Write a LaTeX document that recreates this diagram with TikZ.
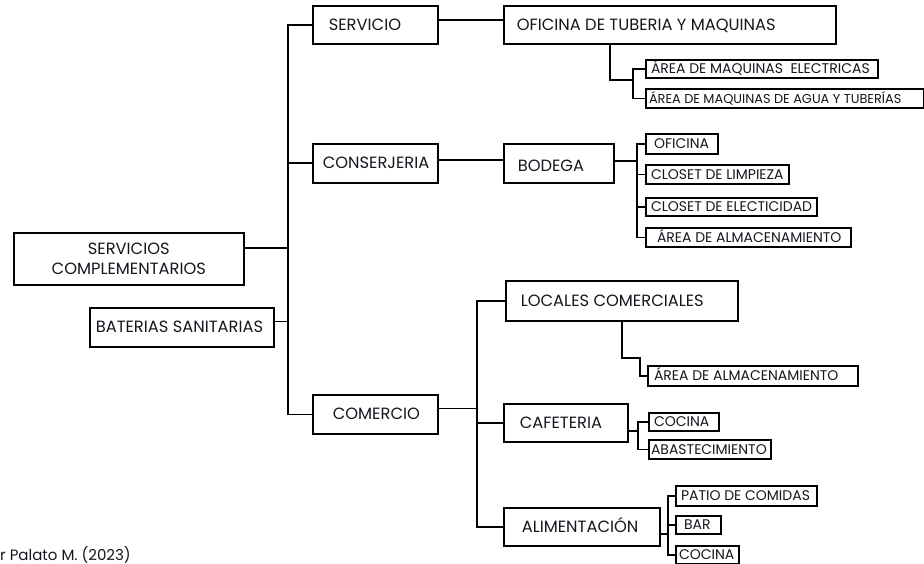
\documentclass[tikz,border=0pt]{standalone}
\usepackage{fontspec}
\setmainfont{Poppins}
\definecolor{txt}{HTML}{16161F}
\tikzset{
  bigbox/.style={draw=black, line width=1.6pt, inner sep=0pt, font=\fontsize{16.3}{20}\selectfont, text=txt},
  smallbox/.style={draw=black, line width=2pt, inner sep=0pt, font=\fontsize{14}{16}\selectfont, text=txt},
  link/.style={line width=1.6pt, draw=black},
}
\newcommand\bx[8][bigbox]{%
  \pgfmathsetmacro\bw{#5-#3}\pgfmathsetmacro\bh{#6-#4}%
  \node[#1, anchor=north west, minimum width=\bw pt, minimum height=\bh pt] (#2) at (#3,#4)
    {\makebox[\bw pt][l]{\hspace*{#7pt}\vphantom{A}\smash{#8}}};}
\begin{document}
\begin{tikzpicture}[x=1pt,y=-1pt]
\useasboundingbox (0,0) rectangle (924,564);
\clip (0,0) rectangle (924,564);
% main boxes
\node[bigbox, anchor=north west, minimum width=230pt, minimum height=52pt, align=center] (main) at (13,232) {SERVICIOS\\COMPLEMENTARIOS};
\bx{bat}{89}{307}{273}{346}{6}{BATERIAS SANITARIAS}
\bx{serv}{312}{5}{437}{43}{16}{SERVICIO}
\bx{ofi}{503}{5}{835}{43}{13}{OFICINA DE TUBERIA Y MAQUINAS}
\bx{cons}{312}{143}{437}{182}{10}{CONSERJERIA}
\bx{bod}{503}{143}{613}{182}{14}{\raisebox{-3pt}{BODEGA}}
\bx{loc}{505}{280}{737}{320}{15}{LOCALES COMERCIALES}
\bx{com}{312}{394}{437}{433}{20}{COMERCIO}
\bx{caf}{503}{403}{627}{441}{16}{CAFETERIA}
\bx{ali}{503}{507}{659}{545}{18}{ALIMENTACIÓN}
% small boxes
\bx[smallbox]{ae}{645}{59}{877}{77}{5}{ÁREA DE MAQUINAS\ \ ELECTRICAS}
\bx[smallbox]{aa}{645}{88}{923}{107}{3}{\fontsize{12.9}{15}\selectfont ÁREA DE MAQUINAS DE AGUA Y TUBERÍAS}
\bx[smallbox]{bo1}{645}{133}{717}{153}{8}{OFICINA}
\bx[smallbox]{bo2}{645}{164}{788}{183}{5}{CLOSET DE LIMPIEZA}
\bx[smallbox]{bo3}{645}{197}{816}{215}{5}{CLOSET DE ELECTICIDAD}
\bx[smallbox]{bo4}{645}{227}{850}{246}{11}{ÁREA DE ALMACENAMIENTO}
\bx[smallbox]{la}{647}{365}{857}{385}{6}{ÁREA DE ALMACENAMIENTO}
\bx[smallbox]{c1}{648}{412}{718}{430}{5}{COCINA}
\bx[smallbox]{c2}{648}{439}{770}{458}{2}{ABASTECIMIENTO}
\bx[smallbox]{a1}{675}{485}{816}{505}{5}{PATIO DE COMIDAS}
\bx[smallbox]{a2}{675}{515}{720}{533}{8}{BAR}
\bx[smallbox]{a3}{675}{545}{738}{563}{3}{COCINA}
% caption
\node[anchor=base west, inner sep=0pt, font=\fontsize{15}{18}\selectfont, text=txt] (cap) at (0,560) {r Palato M. (2023)};
% trunk coordinates
\coordinate (T) at (288,0);
\coordinate (U) at (477,0);
\coordinate (V) at (633,0);
\coordinate (W) at (637,0);
\coordinate (X) at (638,0);
\coordinate (Y) at (668,0);
% trunk
\draw[link] (serv.west) -- (serv.west -| T) -- (com.west -| T) -- (com.west);
\draw[link] (cons.west) -- (cons.west -| T);
\draw[link] ([yshift=11pt]main.east) -- ([yshift=11pt]main.east -| T);
\draw[link] ([yshift=6pt]bat.east) -- ([yshift=6pt]bat.east -| T);
% servicio
\draw[link] ([yshift=5pt]serv.east) -- ([yshift=5pt]serv.east -| ofi.west);
\coordinate (ofb) at (610,43);
\draw[link] (ofb) -- ++(0,37) -| (V |- ae.west);
\draw[link] (ae.west) -- (ae.west -| V) -- (aa.west -| V) -- (aa.west);
% conserjeria
\draw[link] ([yshift=3pt]cons.east) -- ([yshift=3pt]cons.east -| bod.west);
\draw[link] ([yshift=2pt]bod.east) -- ([yshift=2pt]bod.east -| W);
\draw[link] (bo1.west) -- (bo1.west -| W) -- (bo4.west -| W) -- (bo4.west);
\draw[link] (bo2.west) -- (bo2.west -| W);
\draw[link] (bo3.west) -- (bo3.west -| W);
% comercio
\draw[link] ([yshift=6pt]com.east) -- ([yshift=6pt]com.east -| U);
\draw[link] (loc.west) -- (loc.west -| U) -- (ali.west -| U) -- (ali.west);
\draw[link] (caf.west) -- (caf.west -| U);
\coordinate (lob) at (622,320);
\draw[link] (lob) -- ++(0,38) -- ++(18,0) |- (la.west);
\draw[link] ([yshift=-8pt]caf.east) -- ([yshift=-8pt]caf.east -| X);
\draw[link] (c1.west) -- (c1.west -| X) -- (c2.west -| X) -- (c2.west);
\draw[link] ([yshift=-7pt]ali.east) -- ([yshift=-7pt]ali.east -| Y);
\draw[link] (a1.west) -- (a1.west -| Y) -- (a3.west -| Y) -- (a3.west);
\draw[link] (a2.west) -- (a2.west -| Y);
\end{tikzpicture}
\end{document}
